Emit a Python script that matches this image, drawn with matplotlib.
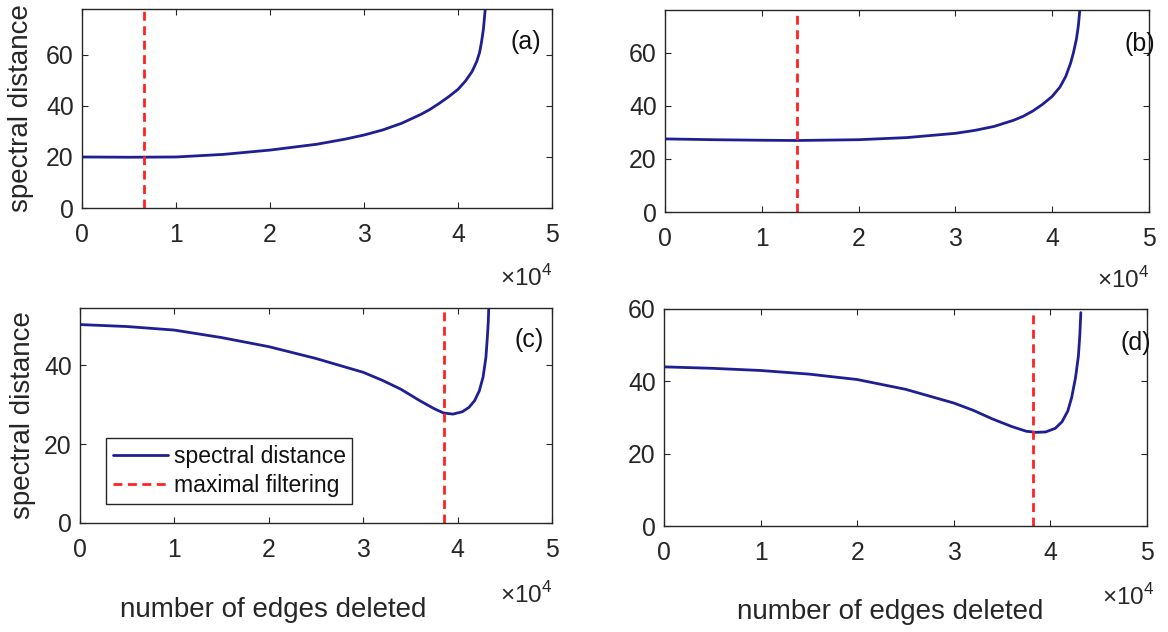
import matplotlib
matplotlib.use("Agg")
import matplotlib.pyplot as plt
from matplotlib.ticker import FuncFormatter, FixedLocator

plt.rcParams['font.family'] = ['Liberation Sans', 'DejaVu Sans']
plt.rcParams['mathtext.fontset'] = 'custom'
plt.rcParams['mathtext.rm'] = 'Liberation Sans'

# ---- data (x in number of edges deleted) ----
xa = [0, 5000, 10000, 15000, 20000, 25000, 28000, 30000, 32000, 34000, 36000,
      37000, 38000, 39000, 40000, 40800, 41500, 42000, 42300, 42500, 42700,
      42800, 42900]
ya = [20.0, 19.9, 20.0, 21.0, 22.7, 25.0, 27.0, 28.6, 30.6, 33.2, 36.6,
      38.6, 41.0, 43.6, 46.5, 49.8, 53.5, 57.5, 61.0, 65.0, 70.0,
      74.0, 78.0]
cut_a = 6600

xb = [0, 5000, 10000, 13600, 20000, 25000, 30000, 32000, 34000, 36000, 37000,
      38000, 39000, 40000, 40800, 41400, 41900, 42200, 42500, 42700, 42850]
yb = [27.5, 27.2, 27.0, 26.9, 27.2, 28.0, 29.6, 30.7, 32.2, 34.5, 36.0,
      38.0, 40.5, 43.5, 47.0, 51.0, 56.0, 60.0, 65.0, 70.0, 76.0]
cut_b = 13600

xc = [0, 5000, 10000, 15000, 20000, 25000, 30000, 32000, 34000, 36000, 37500,
      38500, 39500, 40500, 41200, 41800, 42300, 42700, 43000, 43150, 43250,
      43300]
yc = [50.3, 49.8, 48.9, 47.0, 44.7, 41.7, 38.2, 36.2, 33.9, 31.0, 29.0,
      27.9, 27.6, 28.2, 29.3, 31.0, 33.5, 37.0, 42.0, 47.0, 51.0,
      54.5]
cut_c = 38600

xd = [0, 5000, 10000, 15000, 20000, 25000, 30000, 32000, 34000, 36000, 37500,
      38500, 39500, 40500, 41200, 41800, 42200, 42600, 42900, 43050, 43150]
yd = [44.0, 43.6, 43.0, 42.0, 40.5, 37.8, 34.0, 32.0, 29.6, 27.5, 26.2,
      25.9, 26.0, 27.0, 28.8, 31.8, 35.5, 41.0, 47.0, 53.0, 59.0]
cut_d = 38200

ylims = [78, 76, 54.5, 60]
panel_labels = ['(a)', '(b)', '(c)', '(d)']
xticks = [0, 10000, 20000, 30000, 40000, 50000]
yticks = [0, 20, 40, 60]
series_labels = ['spectral distance', 'maximal filtering']
xlabel_text = 'number of edges deleted'
ylabel_text = 'spectral distance'

BLUE = '#1f1f94'
RED = '#ff2222'
AXC = '#262626'

W, H = 1168, 632
fig = plt.figure(figsize=(W / 100, H / 100), dpi=100)

# axes boxes in pixels: left, right, top, bottom
boxes = [(82, 552, 9, 208), (665, 1149, 10, 212),
         (80, 552, 308, 523), (664, 1147, 309, 526)]
data = [(xa, ya, cut_a), (xb, yb, cut_b), (xc, yc, cut_c), (xd, yd, cut_d)]
lab_pos = [(0.977, 0.834), (1.012, 0.834), (0.983, 0.851), (1.008, 0.843)]
off_pos = [(1.0, -0.35), (1.0, -0.337), (1.0, -0.335), (1.015, -0.327)]

axes = []
for i, ((l, r, t, b), (x, y, cut)) in enumerate(zip(boxes, data)):
    ax = fig.add_axes([l / W, 1 - b / H, (r - l) / W, (b - t) / H])
    axes.append(ax)
    ax.plot(x, y, color=BLUE, lw=2.0, label=series_labels[0],
            solid_joinstyle='round', solid_capstyle='round')
    ax.axvline(cut, color=RED, lw=2.0, ls=(0, (3.2, 2.0)), label=series_labels[1])
    ax.set_xlim(0, 50000)
    ax.set_ylim(0, ylims[i])
    ax.xaxis.set_major_locator(FixedLocator(xticks))
    ax.yaxis.set_major_locator(FixedLocator([v for v in yticks if v <= ylims[i]]))
    ax.xaxis.set_major_formatter(FuncFormatter(lambda v, p: '%d' % round(v / 10000)))
    ax.tick_params(direction='in', length=4, width=0.8, colors=AXC,
                   labelsize=17.8, top=True, right=True)
    ax.tick_params(axis='x', pad=11)
    ax.tick_params(axis='y', pad=6)
    for s in ax.spines.values():
        s.set_color(AXC)
        s.set_linewidth(1.0)
    ax.text(lab_pos[i][0], lab_pos[i][1], panel_labels[i], transform=ax.transAxes,
            ha='right', va='center', fontsize=18, color='#111111')
    ax.text(off_pos[i][0], off_pos[i][1], '×' + r'$10^{4}$', transform=ax.transAxes,
            ha='right', va='center', fontsize=17.5, color=AXC)

# y labels
axes[0].text(-0.13, 0.5, ylabel_text, transform=axes[0].transAxes, rotation=90,
             ha='center', va='center', fontsize=20, color=AXC)
axes[2].text(-0.121, 0.5, ylabel_text, transform=axes[2].transAxes, rotation=90,
             ha='center', va='center', fontsize=20, color=AXC)
# x labels
axes[2].text(0.41, -0.405, xlabel_text, transform=axes[2].transAxes,
             ha='center', va='center', fontsize=20, color=AXC)
axes[3].text(0.468, -0.396, xlabel_text, transform=axes[3].transAxes,
             ha='center', va='center', fontsize=20, color=AXC)

leg = axes[2].legend(loc='upper left', bbox_to_anchor=(0.055, 0.395), borderaxespad=0,
                     fontsize=16.5, frameon=True, fancybox=False, framealpha=1,
                     edgecolor=AXC, handlelength=2.4, handletextpad=0.25,
                     labelspacing=0.25, borderpad=0.3)
leg.get_frame().set_linewidth(1.0)
for t in leg.get_texts():
    t.set_color('#111111')

fig.savefig('out.png', dpi=100)
